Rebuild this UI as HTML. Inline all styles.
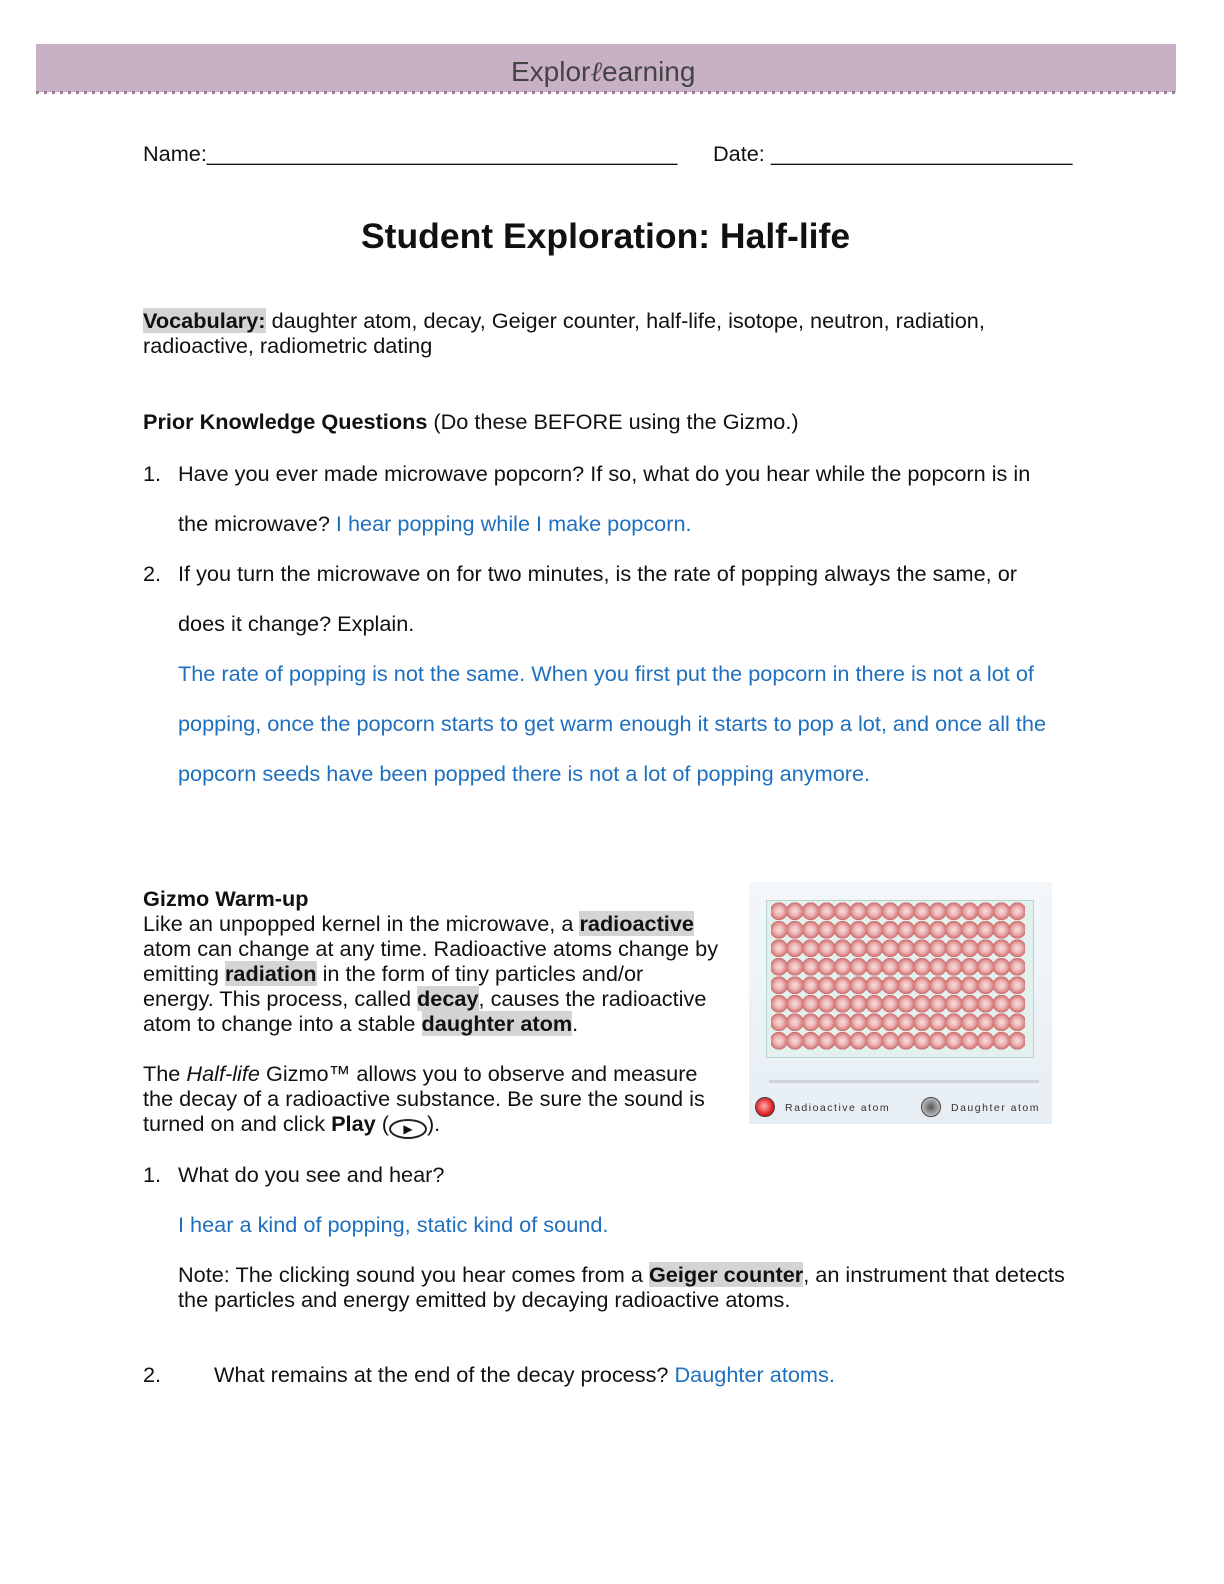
<!DOCTYPE html>
<html><head><meta charset="utf-8"><style>
body{margin:0;width:1224px;height:1584px;background:#fff;position:relative;font-family:"Liberation Sans",Arial,sans-serif;color:#111;}
.t{position:absolute;font-size:21.7px;white-space:nowrap;line-height:25px;}
.b{color:#1f6fbf;}
.h{background:#d4d4d4;font-weight:bold;}
</style></head><body>
<div style="position:absolute;left:36px;top:44px;width:1140px;height:48px;background:#c8b1c5;"></div>
<div style="position:absolute;left:36px;top:91px;width:1140px;height:3px;background:repeating-linear-gradient(90deg,#a07a99 0 3px,transparent 3px 8px);"></div>
<div class="t" style="left:511px;top:57px;font-size:28px;line-height:30px;color:#444;">Explor<span style="font-family:'Liberation Serif',serif;font-style:italic;">ℓ</span>earning</div>

<div class="t" style="left:143px;top:141px;">Name:_______________________________________</div>
<div class="t" style="left:713px;top:141px;">Date: _________________________</div>
<div class="t" style="left:361px;top:216px;font-size:35.5px;font-weight:bold;line-height:40px;">Student Exploration: Half-life</div>

<div class="t" style="left:143px;top:308px;"><span class="h">Vocabulary:</span> daughter atom, decay, Geiger counter, half-life, isotope, neutron, radiation,</div>
<div class="t" style="left:143px;top:333px;">radioactive, radiometric dating</div>

<div class="t" style="left:143px;top:409px;"><b>Prior Knowledge Questions</b> (Do these BEFORE using the Gizmo.)</div>
<div class="t" style="left:143px;top:461px;">1.</div>
<div class="t" style="left:178px;top:461px;">Have you ever made microwave popcorn? If so, what do you hear while the popcorn is in</div>
<div class="t" style="left:178px;top:511px;">the microwave? <span class="b">I hear popping while I make popcorn.</span></div>
<div class="t" style="left:143px;top:561px;">2.</div>
<div class="t" style="left:178px;top:561px;">If you turn the microwave on for two minutes, is the rate of popping always the same, or</div>
<div class="t" style="left:178px;top:611px;">does it change? Explain.</div>
<div class="t b" style="left:178px;top:661px;">The rate of popping is not the same. When you first put the popcorn in there is not a lot of</div>
<div class="t b" style="left:178px;top:711px;">popping, once the popcorn starts to get warm enough it starts to pop a lot, and once all the</div>
<div class="t b" style="left:178px;top:761px;">popcorn seeds have been popped there is not a lot of popping anymore.</div>

<div class="t" style="left:143px;top:886px;font-weight:bold;">Gizmo Warm-up</div>
<div class="t" style="left:143px;top:911px;">Like an unpopped kernel in the microwave, a <span class="h">radioactive</span></div>
<div class="t" style="left:143px;top:936px;">atom can change at any time. Radioactive atoms change by</div>
<div class="t" style="left:143px;top:961px;">emitting <span class="h">radiation</span> in the form of tiny particles and/or</div>
<div class="t" style="left:143px;top:986px;">energy. This process, called <span class="h">decay</span>, causes the radioactive</div>
<div class="t" style="left:143px;top:1011px;">atom to change into a stable <span class="h">daughter atom</span>.</div>
<div class="t" style="left:143px;top:1061px;">The <i>Half-life</i> Gizmo™ allows you to observe and measure</div>
<div class="t" style="left:143px;top:1086px;">the decay of a radioactive substance. Be sure the sound is</div>
<div class="t" style="left:143px;top:1111px;">turned on and click <b>Play</b> (<span style="display:inline-block;width:38px;height:20px;border:2px solid #222;border-radius:50%;box-sizing:border-box;vertical-align:-2px;text-align:center;font-size:12px;line-height:16px;">▶</span>).</div>

<div style="position:absolute;left:749px;top:882px;width:303px;height:242px;background:linear-gradient(#f3f7fa,#e6eef4);">
  <div style="position:absolute;left:17px;top:18px;width:266px;height:156px;border:1px solid #b8d2c8;background:#e3f1ee;"></div>
  <div style="position:absolute;left:22px;top:20px;width:254px;height:148px;background-image:radial-gradient(circle at 50% 50%,#f6dede 0,#eeb6b6 35%,#d98282 62%,#c86a6a 72%,transparent 74%);background-size:15.9px 18.5px;"></div>
  <div style="position:absolute;left:20px;top:198px;width:270px;height:3px;background:#cdd3d8;"></div>
  <div style="position:absolute;left:6px;top:215px;width:18px;height:18px;border-radius:50%;border:1px solid #444;background:radial-gradient(circle at 45% 45%,#ffb0b0,#e02020 60%,#a00 100%);"></div>
  <div style="position:absolute;left:36px;top:220px;font-size:10.5px;letter-spacing:1.5px;color:#333;white-space:nowrap;">Radioactive atom</div>
  <div style="position:absolute;left:172px;top:215px;width:18px;height:18px;border-radius:50%;border:1px solid #444;background:radial-gradient(circle,#555,#bbb 70%,#eee);"></div>
  <div style="position:absolute;left:202px;top:220px;font-size:10.5px;letter-spacing:1.5px;color:#333;white-space:nowrap;">Daughter atom</div>
</div>

<div class="t" style="left:143px;top:1162px;">1.</div>
<div class="t" style="left:178px;top:1162px;">What do you see and hear?</div>
<div class="t b" style="left:178px;top:1212px;">I hear a kind of popping, static kind of sound.</div>
<div class="t" style="left:178px;top:1262px;">Note: The clicking sound you hear comes from a <span class="h">Geiger counter</span>, an instrument that detects</div>
<div class="t" style="left:178px;top:1287px;">the particles and energy emitted by decaying radioactive atoms.</div>
<div class="t" style="left:143px;top:1362px;">2.</div>
<div class="t" style="left:214px;top:1362px;">What remains at the end of the decay process? <span class="b">Daughter atoms.</span></div>
</body></html>
